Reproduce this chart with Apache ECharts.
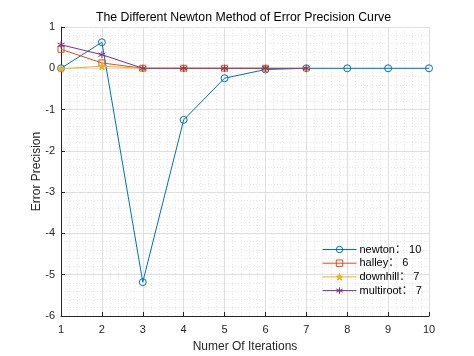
<!DOCTYPE html>
<html><head><meta charset="utf-8">
<script src="https://cdn.jsdelivr.net/npm/echarts@6/dist/echarts.min.js"></script>
<style>html,body{margin:0;padding:0;background:#fff}#c{width:474px;height:356px}</style>
</head><body><div id="c"></div>
<script>
var iterations = [1,2,3,4,5,6,7,8,9,10];
var newton    = [0, 0.63, -5.18, -1.25, -0.24, -0.03, 0, 0, 0, 0];
var halley    = [0.46, 0.13, 0, 0, 0, 0];
var downhill  = [-0.01, 0.05, 0, 0, 0, 0, 0];
var multiroot = [0.57, 0.33, 0, 0, 0, 0, 0];
var seriesNames = ['newton', 'halley', 'downhill', 'multiroot'];
var seriesCounts = [10, 6, 7, 7];
var colors = ['#0072BD', '#D95319', '#EDB120', '#7E2F8E'];

var starPath = 'path://M0,-10L2.35,-3.24L9.51,-3.09L3.8,1.24L5.88,8.09L0,4L-5.88,8.09L-3.8,1.24L-9.51,-3.09L-2.35,-3.24Z';
var asteriskPath = 'path://M0,-10L0,10M-8.66,-5L8.66,5M-8.66,5L8.66,-5';
var symbols = ['circle', 'rect', starPath, asteriskPath];
var sizes = [7, 6, 7, 7];
var fills = ['rgba(255,255,255,0)', 'rgba(255,255,255,0)', '#EDB120', '#7E2F8E'];
var dataSets = [newton, halley, downhill, multiroot];

function pairs(arr){ return arr.map(function(v,i){ return [iterations[i], v]; }); }

var legendNames = seriesNames.map(function(n,i){ return n + '： ' + seriesCounts[i]; });
var font = 'Liberation Sans, Arial, Noto Sans CJK SC, sans-serif';

var series = dataSets.map(function(d,i){
  return {
    name: legendNames[i],
    type: 'line',
    data: pairs(d),
    symbol: symbols[i],
    symbolSize: sizes[i],
    showAllSymbol: true,
    lineStyle: {color: colors[i], width: 1},
    itemStyle: {color: fills[i], borderColor: colors[i], borderWidth: 1},
    emphasis: {disabled: true},
    animation: false,
    z: 2 + i
  };
});

var chart = echarts.init(document.getElementById('c'), null, {renderer: 'canvas'});
var axisText = {color: '#262626', fontSize: 11, fontFamily: font};
chart.setOption({
  animation: false,
  backgroundColor: '#fff',
  title: {
    text: 'The Different Newton Method of Error Precision Curve',
    left: 96, top: 11, padding: 0,
    textStyle: {fontSize: 12.3, fontWeight: 'normal', color: '#000', fontFamily: font}
  },
  grid: {left: 61, right: 45, top: 27, bottom: 40, containLabel: false, outerBoundsMode: 'none'},
  legend: {
    orient: 'vertical',
    left: 317, top: 239,
    itemWidth: 34, itemHeight: 8, itemGap: 2.7,
    lineStyle: {width: 1},
    itemStyle: {borderWidth: 1},
    textStyle: {fontSize: 11, color: '#000', fontFamily: font, padding: [0,0,0,-2]},
    data: legendNames.map(function(n){ return {name: n}; })
  },
  xAxis: {
    type: 'value', min: 1, max: 10, interval: 1,
    name: 'Numer Of Iterations', nameLocation: 'middle', nameGap: 25, nameMoveOverlap: false,
    nameTextStyle: {fontSize: 12, color: '#262626', fontFamily: font},
    axisLine: {show: true, onZero: false, lineStyle: {color: '#262626', width: 1}},
    axisTick: {show: true, inside: true, length: 4, lineStyle: {color: '#262626'}},
    axisLabel: Object.assign({margin: 8}, axisText),
    splitLine: {show: true, lineStyle: {color: '#dfdfdf', width: 1}},
    minorTick: {show: false, splitNumber: 5},
    minorSplitLine: {show: true, lineStyle: {color: '#e8e8e8', type: [1, 2], width: 1}}
  },
  yAxis: {
    type: 'value', min: -6, max: 1, interval: 1,
    name: 'Error Precision', nameLocation: 'middle', nameGap: 18, nameRotate: 90, nameMoveOverlap: false,
    nameTextStyle: {fontSize: 12, color: '#262626', fontFamily: font},
    axisLine: {show: true, onZero: false, lineStyle: {color: '#262626', width: 1}},
    axisTick: {show: true, inside: true, length: 4, lineStyle: {color: '#262626'}},
    axisLabel: Object.assign({margin: 6}, axisText),
    splitLine: {show: true, lineStyle: {color: '#dfdfdf', width: 1}},
    minorTick: {show: false, splitNumber: 5},
    minorSplitLine: {show: true, lineStyle: {color: '#e8e8e8', type: [1, 2], width: 1}}
  },
  series: series
});
</script>
</body></html>
